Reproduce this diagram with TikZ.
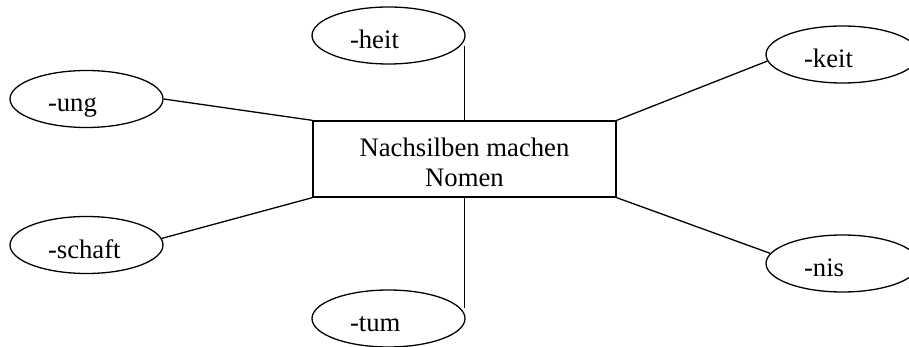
\documentclass[tikz,border=0pt]{standalone}
\usepackage{fontspec}
\setmainfont{Liberation Serif}
\usetikzlibrary{shapes.geometric}

\begin{document}
\begin{tikzpicture}[x=1pt, y=-1pt, line width=1.3pt,
  every node/.style = {draw, font=\fontsize{26.7}{30}\selectfont, inner sep=0pt},
  silbe/.style = {ellipse, minimum width=153pt, minimum height=57pt,
    text width=77pt, align=left, text height=26pt, text depth=0pt},
  kernbox/.style = {rectangle, minimum width=303pt, minimum height=76pt, align=center}]
  \useasboundingbox (0,0) rectangle (909,347);
  % mitte
  \node[kernbox] (kern) at (464.5,159) {\rule{0pt}{25.4pt}Nachsilben machen\\Nomen};
  % nachsilben
  \node[silbe] (heit) at (388.5,35.5) {-heit};
  \node[silbe] (ung) at (86.5,99) {-ung};
  \node[silbe] (schaft) at (86.5,245) {-schaft};
  \node[silbe] (tum) at (388.5,318.5) {-tum};
  \node[silbe] (keit) at (842.5,54.5) {-keit};
  \node[silbe] (nis) at (842.5,263.5) {-nis};
  % linien
  \draw (kern.north) -- (kern.north |- heit.-8);
  \draw (kern.south) -- (kern.south |- tum.8);
  \draw (kern.north west) -- (ung.east);
  \draw (kern.south west) -- (schaft.5);
  \draw (kern.north east) -- (keit.185);
  \draw (kern.south east) -- (nis.172);
\end{tikzpicture}
\end{document}
